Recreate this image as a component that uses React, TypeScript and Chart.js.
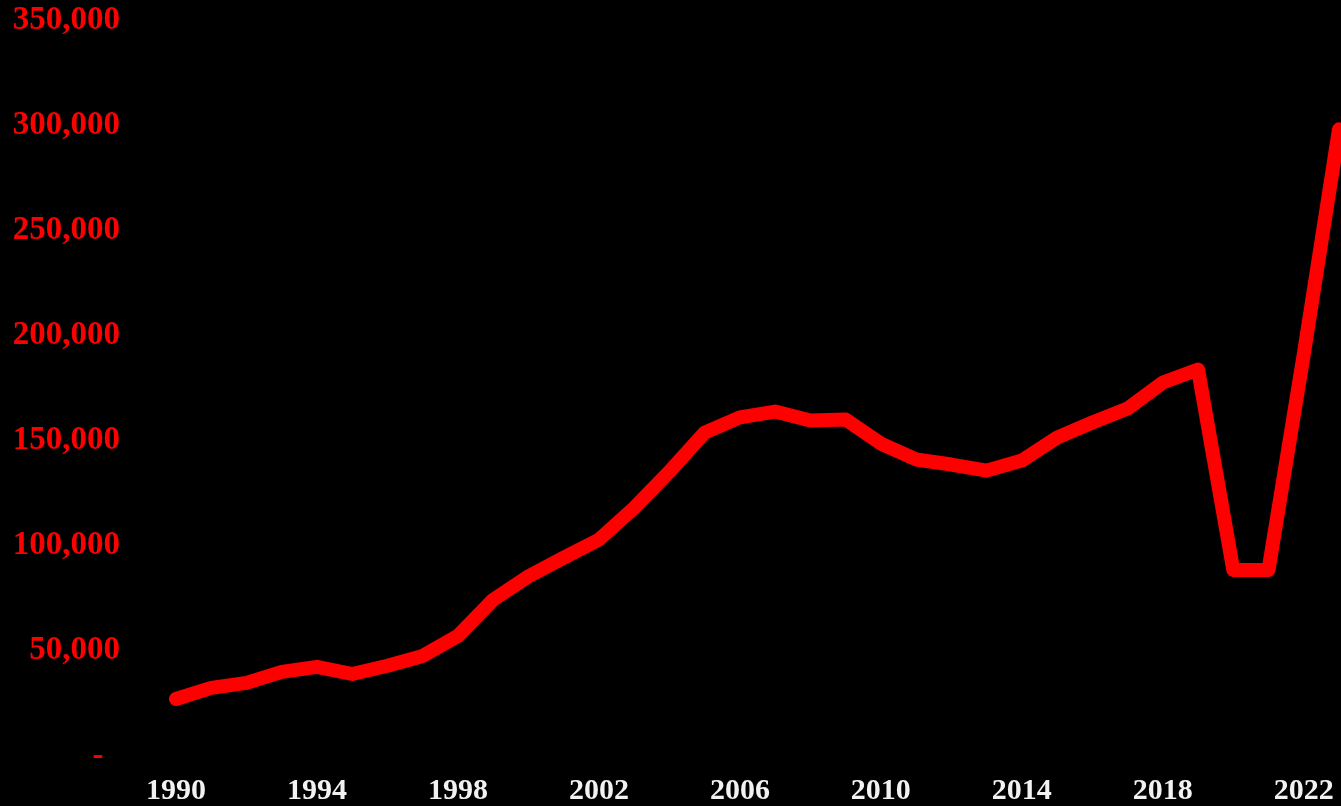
import React, { useEffect, useRef } from "react";
import { Chart, registerables } from "chart.js";

Chart.register(...registerables);

const years: string[] = [
  "1990","1991","1992","1993","1994","1995","1996","1997","1998","1999",
  "2000","2001","2002","2003","2004","2005","2006","2007","2008","2009",
  "2010","2011","2012","2013","2014","2015","2016","2017","2018","2019",
  "2020","2021","2022","2023",
];

const values: number[] = [
  27100, 32400, 34800, 40000, 42400, 39000, 42900, 47600, 57100, 74300,
  85400, 94300, 102900, 118000, 135200, 153800, 161000, 163800, 159500, 160000,
  148600, 141000, 138600, 135700, 140500, 151400, 158600, 165200, 177600, 183800,
  88500, 88500, 191000, 298000,
];

const shownYears: string[] = ["1990","1994","1998","2002","2006","2010","2014","2018","2022"];

const yMax = 350000;
const yStep = 50000;

export default function App() {
  const ref = useRef<HTMLCanvasElement | null>(null);

  useEffect(() => {
    if (!ref.current) return;
    const chart = new Chart(ref.current, {
      type: "line",
      data: {
        labels: years,
        datasets: [
          {
            data: values,
            borderColor: "#ff0000",
            borderWidth: 14,
            borderCapStyle: "round",
            borderJoinStyle: "round",
            pointRadius: 0,
            tension: 0,
            fill: false,
          },
        ],
      },
      options: {
        animation: false,
        responsive: false,
        maintainAspectRatio: false,
        layout: { padding: { top: 20, right: 2, left: 0, bottom: 0 } },
        plugins: { legend: { display: false }, tooltip: { enabled: false } },
        scales: {
          x: {
            type: "category",
            offset: false,
            grid: { display: false, drawTicks: false },
            border: { display: false },
            afterFit: (scale: any) => {
              scale.height = 50;
              scale.paddingLeft = 0;
              scale.paddingRight = 0;
            },
            ticks: {
              autoSkip: false,
              maxRotation: 0,
              padding: 17,
              color: "#f2f2f2",
              font: { family: "'Liberation Serif', 'Times New Roman', serif", size: 30, weight: "bold" },
              callback: function (this: any, _v: any, i: number) {
                const l = years[i];
                return shownYears.includes(l) ? l : "";
              },
            },
          },
          y: {
            min: 0,
            max: yMax,
            grid: { display: false, drawTicks: false },
            border: { display: false },
            afterFit: (scale: any) => {
              scale.width = 176;
              scale.paddingTop = 0;
              scale.paddingBottom = 0;
            },
            ticks: {
              stepSize: yStep,
              padding: 56,
              color: "#ff0000",
              font: { family: "'Liberation Serif', 'Times New Roman', serif", size: 33, weight: "bold" },
              callback: (v: any) => (Number(v) === 0 ? "-  " : Number(v).toLocaleString("en-US")),
            },
          },
        },
      },
    });
    return () => chart.destroy();
  }, []);

  return (
    <div style={{ position: "fixed", left: 0, top: 0, width: 1341, height: 806, background: "#000" }}>
      <canvas ref={ref} width={1341} height={806} style={{ display: "block" }} />
    </div>
  );
}
